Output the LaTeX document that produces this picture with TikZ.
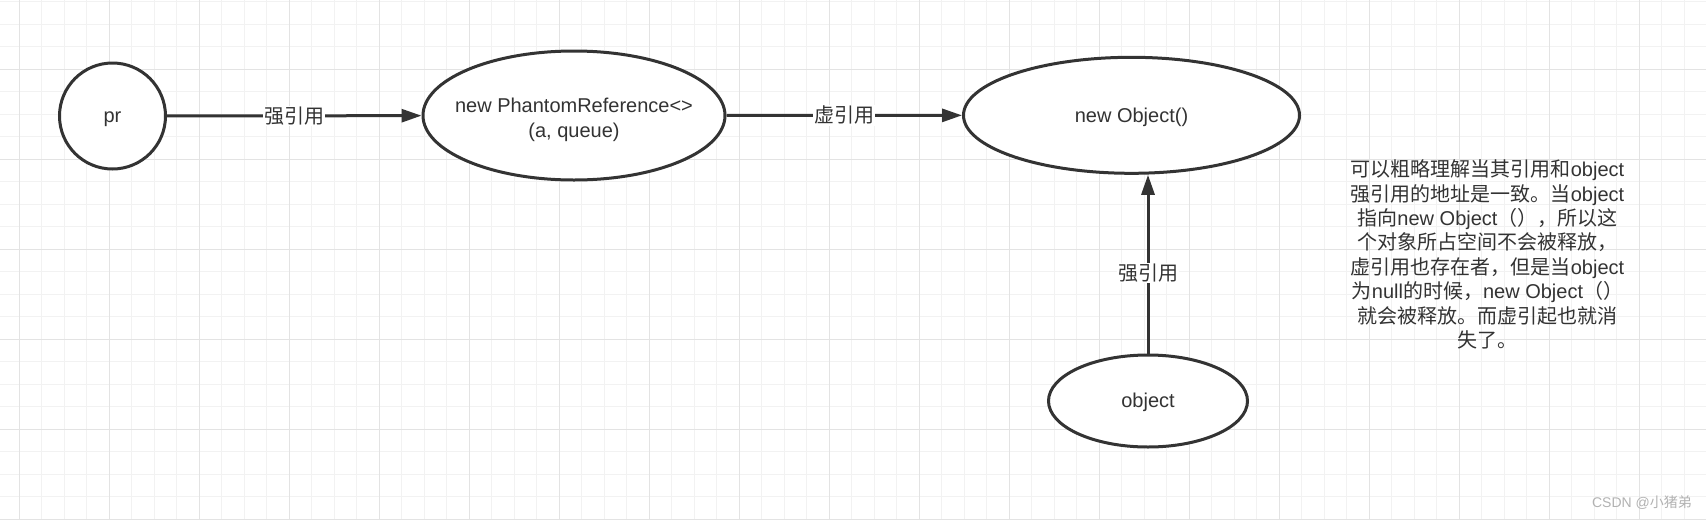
\documentclass[tikz,border=0pt]{standalone}
\usepackage{fontspec}
\setmainfont{Liberation Sans}
\newfontfamily\zhfont{Noto Sans CJK SC}
\usetikzlibrary{arrows.meta, shapes.geometric}

\definecolor{ink}{HTML}{333333}
\definecolor{gridminor}{HTML}{F2F2F2}
\definecolor{gridmajor}{HTML}{E3E3E3}

\tikzset{
  refnode/.style={draw=ink, line width=3pt, fill=white, inner sep=0pt, text=ink,
    text height=18.9pt, text depth=5pt, font=\fontsize{20}{24.4}\selectfont},
  reftext/.style={text=ink, align=center, font=\fontsize{20}{24.4}\selectfont},
  refarrow/.style={draw=ink, line width=3pt, -{Triangle[length=20pt, width=13pt]}},
  reflabel/.style={fill=white, inner sep=1pt, text=ink, font=\fontsize{20}{24}\selectfont\zhfont},
}

\begin{document}
\begin{tikzpicture}[x=1pt, y=-1pt]
  \fill[white] (0,0) rectangle (1706,520);
  \useasboundingbox (0,0) rectangle (1706,520);

  % background grid
  \foreach \k in {0,...,75}
    \draw[gridminor, line width=1pt] ({19+22.5*\k},0) -- ++(0,520);
  \foreach \k in {0,...,23}
    \draw[gridminor, line width=1pt] (0,{1.8+22.5*\k}) -- ++(1706,0);
  \foreach \k in {0,...,18}
    \draw[gridmajor, line width=1pt] ({19+90*\k},0) -- ++(0,520);
  \foreach \k in {0,...,5}
    \draw[gridmajor, line width=1pt] (0,{69.3+90*\k}) -- ++(1706,0);

  \node[refnode, circle, minimum size=106pt] (pr) at (112.5,116) {pr};
  \node[refnode, ellipse, minimum width=302pt, minimum height=129pt,
    label={[reftext, yshift=-4.5pt]center:{new PhantomReference<>\\(a, queue)}}] (phantom) at (574,115.5) {};
  \node[refnode, ellipse, minimum width=336pt, minimum height=116pt] (newobj) at (1131.5,115.3) {new Object()};
  \node[refnode, ellipse, minimum width=199pt, minimum height=92pt] (object) at (1148,401) {object};

  \draw[refarrow] (pr) -- node[reflabel] {强引用} (phantom);
  \draw[refarrow] (phantom) -- node[reflabel] {虚引用} (newobj);
  \draw[refarrow] (object.north) -- node[reflabel, pos=0.45] {强引用} (object.north |- newobj.south);

  \node[reftext] (note) at (1487.5,254.5)
    {{\zhfont 可以粗略理解当其引用和}object\\
     {\zhfont 强引用的地址是一致。当}object\\
     {\zhfont 指向}new Object{\zhfont （），所以这}\\
     {\zhfont 个对象所占空间不会被释放，}\\
     {\zhfont 虚引用也存在者，但是当}object\\
     {\zhfont 为}null{\zhfont 的时候，}new Object{\zhfont （）}\\
     {\zhfont 就会被释放。而虚引起也就消}\\
     {\zhfont 失了。}};

  \node[text=black!30, font=\fontsize{14}{16}\selectfont] (mark) at (1642,503) {CSDN @{\zhfont 小猪弟}};
\end{tikzpicture}
\end{document}
